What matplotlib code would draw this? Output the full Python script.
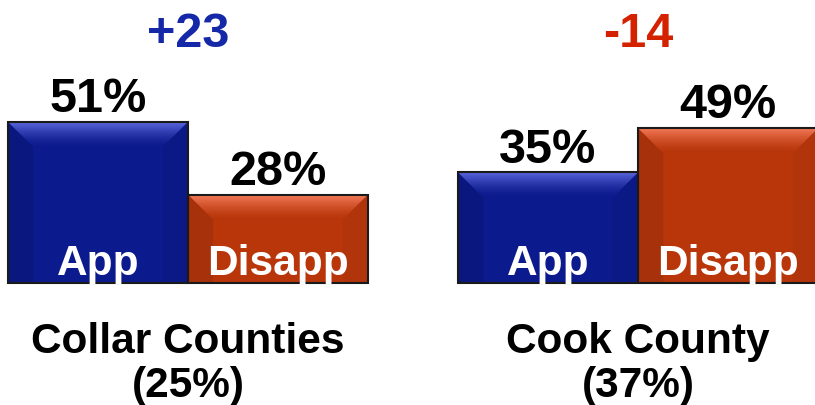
import numpy as np
import matplotlib
matplotlib.use("Agg")
from matplotlib import pyplot as plt
from matplotlib.patches import Polygon
from matplotlib.colors import to_rgb

plt.rcParams['font.family'] = ['Liberation Sans', 'DejaVu Sans']

# data
region_names = ["Collar Counties", "Cook County"]
region_shares = ["(25%)", "(37%)"]
approve = [51, 35]
disapprove = [28, 49]
net = [23, -14]
bar_names = ["App", "Disapp"]

blue = "#0b1a8c"
red = "#b9360b"
blue_hi = "#5b66dc"
red_hi = "#f47a58"
net_colors = {True: "#1428a8", False: "#d42200"}

fig = plt.figure(figsize=(8.15, 4.06), dpi=100)
ax = fig.add_axes([0, 0, 1, 1])
ax.set_xlim(-0.544, 3.983)
ax.set_ylim(-38.6, 89.9)
ax.axis('off')

group_x = np.array([0.0, 2.5])
width = 1.0


def bevel(ax, x, h, face, hi):
    # top bevel highlight + slightly darker side bevels
    bx, by = 0.14, 7.9
    left, right = x - width / 2, x + width / 2
    top = h
    c0 = np.array(to_rgb(face))
    ax.add_patch(Polygon([(left, 0), (left, top), (left + bx, top - by), (left + bx, 0)],
                         closed=True, fc=c0 * 0.9, ec='none', zorder=3))
    ax.add_patch(Polygon([(right, 0), (right, top), (right - bx, top - by), (right - bx, 0)],
                         closed=True, fc=c0 * 0.96, ec='none', zorder=3))
    trap = Polygon([(left, top), (right, top), (right - bx, top - by), (left + bx, top - by)],
                   closed=True, fc='none', ec='none', zorder=4)
    ax.add_patch(trap)
    c1 = np.array(to_rgb(hi))
    t = np.linspace(0, 1, 64)[:, None] ** 1.5
    grad = (c0 * (1 - t) + c1 * t)[:, None, :]
    im = ax.imshow(grad, extent=(left, right, top - by, top), origin='lower',
                   aspect='auto', zorder=4, interpolation='bilinear')
    im.set_clip_path(trap)


for i, gx in enumerate(group_x):
    xs = [gx, gx + 1]
    vals = [approve[i], disapprove[i]]
    cols = [blue, red]
    his = [blue_hi, red_hi]
    for j in range(2):
        ax.bar(xs[j], vals[j], width=width, color=cols[j], edgecolor='none', zorder=2)
        bevel(ax, xs[j], vals[j], cols[j], his[j])
        ax.bar(xs[j], vals[j], width=width, color='none', edgecolor='#1a1a1a',
               linewidth=1.5, zorder=5)
        ax.text(xs[j], vals[j] + 3.4, f"{vals[j]}%", ha='center', va='baseline',
                fontsize=35, fontweight='bold', color='black', zorder=6)
        ax.text(xs[j], 2.8, bar_names[j], ha='center', va='baseline',
                fontsize=30.5, fontweight='bold', color='white', zorder=6)
    center = gx + 0.5
    sign = "+" if net[i] > 0 else ""
    ax.text(center, 75, f"{sign}{net[i]}", ha='center', va='baseline',
            fontsize=35, fontweight='bold', color=net_colors[net[i] > 0])
    ax.text(center, -21.8, region_names[i], ha='center', va='baseline', fontsize=30.5,
            fontweight='bold', color='black')
    ax.text(center, -35.8, region_shares[i], ha='center', va='baseline', fontsize=30.5,
            fontweight='bold', color='black')

plt.savefig("out.png", dpi=100)
